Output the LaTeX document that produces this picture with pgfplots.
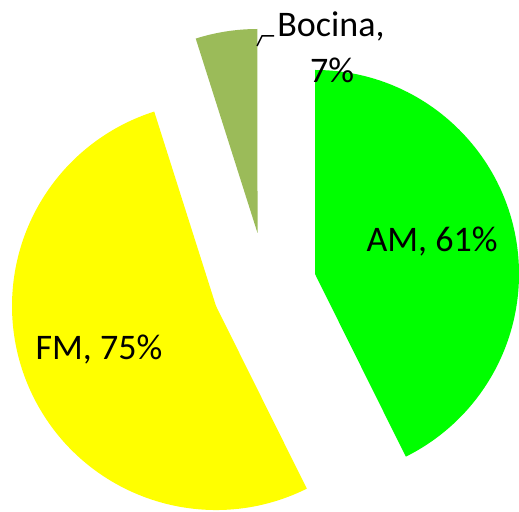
\documentclass[border=0pt]{standalone}
\usepackage{fontspec}
\setmainfont{Carlito}
\usepackage{pgfplots}
\usepackage{pgfplotstable}
\pgfplotsset{compat=1.18}
\definecolor{amgreen}{RGB}{0,255,0}
\definecolor{fmyellow}{RGB}{255,255,0}
\definecolor{bocgreen}{RGB}{155,187,89}

% slice values and the apex (exploded centre) of each slice, in pixel units
\pgfplotstableread{
label  value ax  ay
AM     61    315 -274
FM     75    216 -306
Bocina 7     257.5 -233
}\piedata

\pgfplotstablegetelem{0}{value}\of\piedata \let\vA\pgfplotsretval
\pgfplotstablegetelem{1}{value}\of\piedata \let\vB\pgfplotsretval
\pgfplotstablegetelem{2}{value}\of\piedata \let\vC\pgfplotsretval
\pgfplotstablegetelem{0}{ax}\of\piedata \let\xA\pgfplotsretval
\pgfplotstablegetelem{1}{ax}\of\piedata \let\xB\pgfplotsretval
\pgfplotstablegetelem{2}{ax}\of\piedata \let\xC\pgfplotsretval
\pgfplotstablegetelem{0}{ay}\of\piedata \let\yA\pgfplotsretval
\pgfplotstablegetelem{1}{ay}\of\piedata \let\yB\pgfplotsretval
\pgfplotstablegetelem{2}{ay}\of\piedata \let\yC\pgfplotsretval
\pgfmathsetmacro{\tot}{\vA+\vB+\vC}
\pgfmathsetmacro{\aS}{90}
\pgfmathsetmacro{\aE}{90-360*(\vA/\tot)}
\pgfmathsetmacro{\bE}{\aE-360*(\vB/\tot)}
\pgfmathsetmacro{\cE}{\bE-360*(\vC/\tot)}
\def\R{204pt}

\begin{document}
\begin{tikzpicture}
\begin{axis}[
  width=519pt, height=511pt, scale only axis,
  xmin=0, xmax=519, ymin=-511, ymax=0,
  hide axis, clip=false,
]
\coordinate (SW) at (rel axis cs:0,0);
\coordinate (NE) at (rel axis cs:1,1);
\fill[amgreen] (axis cs:\xA,\yA) -- ++(\aS:\R) arc[start angle=\aS, end angle=\aE, radius=\R] -- cycle;
\fill[fmyellow] (axis cs:\xB,\yB) -- ++(\aE:\R) arc[start angle=\aE, end angle=\bE, radius=\R] -- cycle;
\fill[bocgreen] (axis cs:\xC,\yC) -- ++(\bE:\R) arc[start angle=\bE, end angle=\cE, radius=\R] -- cycle;
\draw[black, line width=1.5pt] (axis cs:257,-46) -- (axis cs:262,-36) -- (axis cs:274,-36);
\node[anchor=base, font=\fontsize{36}{40}\selectfont, inner sep=0pt] at (axis cs:432,-252) {AM, 61\%};
\node[anchor=base, font=\fontsize{36}{40}\selectfont, inner sep=0pt] at (axis cs:99,-360) {FM, 75\%};
\node[anchor=base, font=\fontsize{36}{40}\selectfont, inner sep=0pt] at (axis cs:331,-37) {Bocina,};
\node[anchor=base, font=\fontsize{36}{40}\selectfont, inner sep=0pt] at (axis cs:332,-83) {7\%};
\end{axis}
\pgfresetboundingbox
\useasboundingbox (SW) rectangle (NE);
\end{tikzpicture}
\end{document}
